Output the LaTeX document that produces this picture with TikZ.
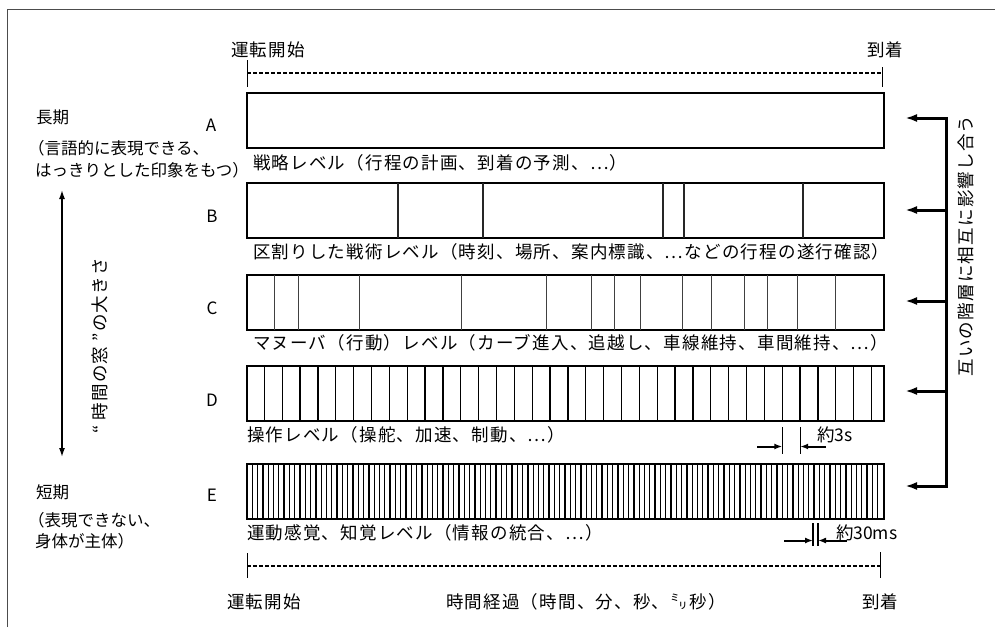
\documentclass[tikz,border=0pt]{standalone}
\usepackage{fontspec}
\setmainfont{Noto Sans CJK JP}
\newfontfamily\jpsp{Noto Sans CJK JP}[LetterSpace=7]
\usetikzlibrary{arrows.meta}
\begin{document}
\begin{tikzpicture}[x=1pt,y=-1pt,
  every node/.style={inner sep=0pt,outer sep=0pt},
  txt/.style={anchor=west,font=\jpsp\fontsize{17.5}{20}\selectfont},
  side/.style={anchor=west,font=\fontsize{16.5}{20}\selectfont},
  dimtxt/.style={anchor=west,font=\fontsize{17.5}{20}\selectfont},
  lvl/.style={anchor=center,font=\fontsize{17}{20}\selectfont},
  vtxt/.style={anchor=center,rotate=90,font=\jpsp\fontsize{17.5}{20}\selectfont},
  bar/.style={draw,line width=2pt,minimum width=637pt,minimum height=55pt},
  divB/.style={line width=1.2pt,black!85},
  divC/.style={line width=1pt,black!75},
  divD/.style={line width=1.3pt},
  divE/.style={line width=1.3pt},
  frame/.style={line width=1.5pt,black!70},
  dashline/.style={line width=1.3pt,dash pattern=on 4pt off 2pt},
  tickline/.style={line width=1pt},
  inf/.style={line width=3pt,-{Latex[length=12pt,width=8pt]}},
  dimarr/.style={line width=2pt,-{Latex[length=8pt,width=6pt]}},
  dimline/.style={line width=1.2pt}]
\useasboundingbox (0,0) rectangle (995,627);
% frame (top and left edges only visible)
\draw[frame] (7.5,627) -- (7.5,9.5) -- (995,9.5);

% time axis top
\node[txt] (tstart) at (231,50) {運転開始};
\node[txt] (tend) at (867,50) {到着};
\coordinate (ts1) at (247,60); \coordinate (ts2) at (247,87);
\coordinate (te1) at (882,67); \coordinate (te2) at (882,87);
\draw[tickline] (ts1) -- (ts2);
\draw[tickline] (te1) -- (te2);
\draw[dashline] (247,73) -- (882,73);

% bars
\node[bar] (A) at (565.5,120.5) {};
\node[bar] (B) at (565.5,210.5) {};
\node[bar] (C) at (565.5,302.5) {};
\node[bar] (D) at (565.5,393.5) {};
\node[bar] (E) at (565.5,491) {};

\foreach \x in {398,483,663,684,803}
  \draw[divB] (\x,0 |- B.north) -- (\x,0 |- B.south);
\foreach \x in {274.4,298.5,359.7,461.8,546.6,591.7,614.5,640.2,682.4,711.1,744.9,767.7,797.2,835.6}
  \draw[divC] (\x,0 |- C.north) -- (\x,0 |- C.south);
\foreach \k in {0,...,34}
  \draw[divD] ({264.3+17.86*\k},0 |- D.north) -- ({264.3+17.86*\k},0 |- D.south);
\foreach \k in {1,...,119}
  \draw[divE] ({247+5.3*\k},0 |- E.north) -- ({247+5.3*\k},0 |- E.south);

% level letters
\node[lvl] (lA) at (211,125) {A};
\node[lvl] (lB) at (212,216) {B};
\node[lvl] (lC) at (212,308) {C};
\node[lvl] (lD) at (212,400) {D};
\node[lvl] (lE) at (212,495) {E};

% labels under bars
\node[txt] (tA) at (253,163) {戦略レベル（行程の計画、到着の予測、…）};
\node[txt] (tB) at (253,252) {区割りした戦術レベル（時刻、場所、案内標識、…などの行程の遂行確認）};
\node[txt] (tC) at (253,343) {マヌーバ（行動）レベル（カーブ進入、追越し、車線維持、車間維持、…）};
\node[txt] (tD) at (247,435) {操作レベル（操舵、加速、制動、…）};
\node[txt] (tE) at (247,533) {運動感覚、知覚レベル（情報の統合、…）};

% left side
\node[side] (long) at (36,117) {長期};
\node[side] (long1) at (28,148) {（言語的に表現できる、};
\node[side] (long2) at (35,170) {はっきりとした印象をもつ）};
\node[side] (short) at (36,492) {短期};
\node[side] (short1) at (28,520) {（表現できない、};
\node[side] (short2) at (35,541) {身体が主体）};
\coordinate (vt) at (62,190);
\coordinate (vb) at (62,457);
\draw[line width=1.5pt,{Latex[length=9pt,width=6pt]}-{Latex[length=9pt,width=6pt]}] (vt) -- (vb);
\node[vtxt] (win) at (100,346) {“ 時間の窓 ”の大きさ};

% right side: mutual influence
\coordinate (rA) at (946,118);
\coordinate (rB) at (946,210);
\coordinate (rC) at (946,301);
\coordinate (rD) at (946,391);
\coordinate (rE) at (946,486);
\draw[inf,{Latex[length=12pt,width=8pt]}-{Latex[length=12pt,width=8pt]}] (905,118) -- (rA) -- (rE) -- (905,486);
\draw[inf] (rB) -- (905,210);
\draw[inf] (rC) -- (905,301);
\draw[inf] (rD) -- (905,391);
\node[vtxt] (mut) at (966,246) {互いの階層に相互に影響し合う};

% dimension 3s
\coordinate (d1t) at (782.3,427); \coordinate (d1b) at (782.3,454);
\coordinate (d2t) at (800.2,427); \coordinate (d2b) at (800.2,454);
\draw[dimline] (d1t) -- (d1b);
\draw[dimline] (d2t) -- (d2b);
\draw[dimarr] (757,446.5) -- (d1b |- 0,446.5);
\draw[dimarr] (826,446.5) -- (d2b |- 0,446.5);
\node[dimtxt] (s3) at (817,435) {約3s};

% dimension 30ms
\coordinate (e1t) at (813,523); \coordinate (e1b) at (813,546);
\coordinate (e2t) at (818,523); \coordinate (e2b) at (818,546);
\draw[dimline] (e1t) -- (e1b);
\draw[dimline] (e2t) -- (e2b);
\draw[dimarr] (784,540.5) -- (e1b |- 0,540.5);
\draw[dimarr] (847,540.5) -- (e2b |- 0,540.5);
\node[dimtxt] (ms30) at (836,533) {約30ms};

% time axis bottom
\coordinate (bs1) at (247,553); \coordinate (bs2) at (247,578);
\coordinate (be1) at (880,552); \coordinate (be2) at (880,578);
\draw[tickline] (bs1) -- (bs2);
\draw[tickline] (be1) -- (be2);
\draw[dashline] (247,566) -- (880,566);
\node[txt] (bstart) at (227,602) {運転開始};
\node[txt] (elapsed) at (446,602) {時間経過（時間、分、秒、㍉秒）};
\node[txt] (bend) at (862,602) {到着};
\end{tikzpicture}
\end{document}
